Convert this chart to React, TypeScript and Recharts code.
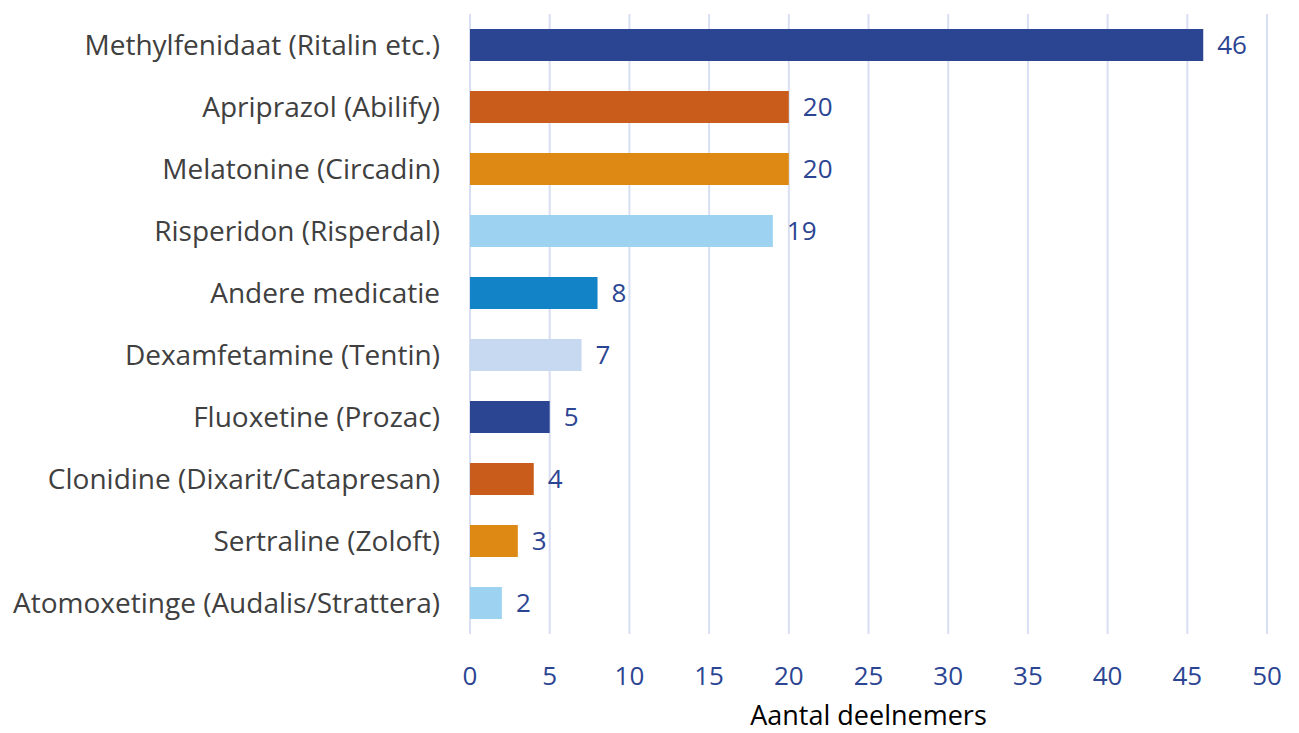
import { BarChart, Bar, XAxis, YAxis, CartesianGrid, LabelList, Cell, Label } from 'recharts';

const medications = [
  'Methylfenidaat (Ritalin etc.)',
  'Apriprazol (Abilify)',
  'Melatonine (Circadin)',
  'Risperidon (Risperdal)',
  'Andere medicatie',
  'Dexamfetamine (Tentin)',
  'Fluoxetine (Prozac)',
  'Clonidine (Dixarit/Catapresan)',
  'Sertraline (Zoloft)',
  'Atomoxetinge (Audalis/Strattera)',
];

const participants = [46, 20, 20, 19, 8, 7, 5, 4, 3, 2];

const xTicks = [0, 5, 10, 15, 20, 25, 30, 35, 40, 45, 50];

const barColors = ['#2C4593', '#C95C1B', '#DD8913', '#9DD3F1', '#1383C8', '#C7D9F1'];

const data = medications.map((name, i) => ({ name, value: participants[i] }));

const font = '"Open Sans", sans-serif';

export default function App() {
  return (
    <div style={{ position: 'absolute', left: 0, top: 0 }}>
      <BarChart
        width={1299}
        height={733}
        data={data}
        layout="vertical"
        margin={{ top: 14, right: 32, bottom: 0, left: 0 }}
        style={{ fontFamily: font }}
      >
        <CartesianGrid horizontal={false} stroke="#D9DFF2" strokeWidth={2} />
        <XAxis
          type="number"
          domain={[0, 50]}
          ticks={xTicks}
          axisLine={false}
          tickLine={false}
          tickSize={0}
          tickMargin={33}
          height={99}
          tick={{ fill: '#2C4593', fontSize: 26 }}
        >
          <Label value="Aantal deelnemers" position="insideBottom" offset={8} fill="#000" fontSize={27} />
        </XAxis>
        <YAxis
          type="category"
          dataKey="name"
          width={470}
          axisLine={false}
          tickLine={false}
          tickSize={0}
          tickMargin={30}
          interval={0}
          tick={{ fill: '#404040', fontSize: 28 }}
        />
        <Bar dataKey="value" barSize={32} isAnimationActive={false}>
          {data.map((_, i) => (
            <Cell key={i} fill={barColors[i % barColors.length]} />
          ))}
          <LabelList dataKey="value" position="right" offset={14} fill="#2C4593" fontSize={26} />
        </Bar>
      </BarChart>
    </div>
  );
}
